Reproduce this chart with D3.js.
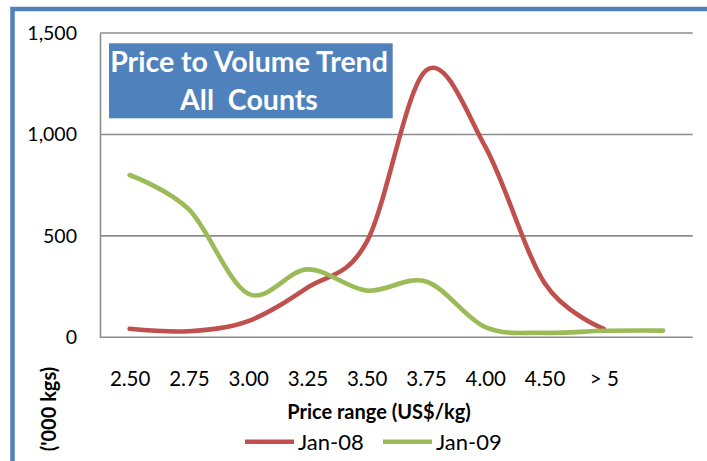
<!DOCTYPE html>
<html>
<head>
<meta charset="utf-8">
<script src="https://cdn.jsdelivr.net/npm/d3@7/dist/d3.min.js"></script>
<style>
  html, body { margin: 0; padding: 0; background: #fff; }
  svg { display: block; font-family: Lato, "Open Sans", sans-serif; }
</style>
</head>
<body>
<svg id="chart" width="707" height="461"></svg>
<script>
// Price ranges (US$/kg); the last slot is an unlabeled bucket
const categories = ["2.50", "2.75", "3.00", "3.25", "3.50", "3.75", "4.00", "4.50", "> 5", ""];
// Volumes in '000 kgs
const jan08 = [42, 30, 80, 245, 470, 1315, 940, 268, 42];
const jan09 = [800, 630, 215, 335, 230, 275, 50, 22, 32, 33];
const yTicks = [0, 500, 1000, 1500];
const seriesNames = ["Jan-08", "Jan-09"];
const seriesColors = ["#C0504D", "#9BBB59"];

const svg = d3.select("#chart");
const plot = { left: 100, right: 692.7, top: 33, bottom: 337.3 };

const x = d3.scalePoint().domain(categories).range([plot.left, plot.right]).padding(0.5);
const y = d3.scaleLinear().domain([0, 1500]).range([plot.bottom, plot.top]);

// Outer frame
svg.append("rect")
  .attr("x", 12.5).attr("y", 9)
  .attr("width", 740).attr("height", 500)
  .attr("fill", "none")
  .attr("stroke", "#4F81BD")
  .attr("stroke-width", 4.5);

// Horizontal gridlines
svg.append("g")
  .selectAll("line")
  .data(yTicks)
  .join("line")
  .attr("x1", plot.left).attr("x2", plot.right)
  .attr("y1", d => y(d)).attr("y2", d => y(d))
  .attr("stroke", "#8C8C8C")
  .attr("stroke-width", 1.6);

// Value axis
const yAxis = svg.append("g")
  .attr("transform", `translate(${plot.left},0)`)
  .call(d3.axisLeft(y).tickValues(yTicks).tickFormat(d3.format(",")).tickSize(0).tickPadding(23));
yAxis.select(".domain").attr("stroke", "#8C8C8C").attr("stroke-width", 1.6);
yAxis.selectAll("text")
  .attr("font-family", "Lato, sans-serif")
  .attr("font-size", 19.5)
  .attr("fill", "#000");

// Category axis
const xAxis = svg.append("g")
  .attr("transform", `translate(0,${plot.bottom})`)
  .call(d3.axisBottom(x).tickSize(0));
xAxis.select(".domain").remove();
xAxis.selectAll("text")
  .attr("y", 48.5)
  .attr("dy", null)
  .attr("font-family", "Lato, sans-serif")
  .attr("font-size", 20.5)
  .attr("fill", "#000");

// Smoothed series lines
const line = d3.line()
  .x((d, i) => x(categories[i]))
  .y(d => y(d))
  .curve(d3.curveCardinal.tension(0));

[jan08, jan09].forEach((vals, k) => {
  svg.append("path")
    .datum(vals)
    .attr("d", line)
    .attr("fill", "none")
    .attr("stroke", seriesColors[k])
    .attr("stroke-width", 4.6)
    .attr("stroke-linecap", "round")
    .attr("stroke-linejoin", "round");
});

// Title box
svg.append("rect")
  .attr("x", 109).attr("y", 43.3)
  .attr("width", 283.7).attr("height", 75)
  .attr("fill", "#4F81BD");
const titleLines = ["Price to Volume Trend", "All  Counts"];
svg.append("g")
  .selectAll("text")
  .data(titleLines)
  .join("text")
  .attr("x", 249)
  .attr("y", (d, i) => 71.7 + i * 38.3)
  .attr("text-anchor", "middle")
  .attr("fill", "#fff")
  .attr("font-weight", "bold")
  .attr("font-size", 28.5)
  .style("white-space", "pre")
  .text(d => d);

// Axis titles
svg.append("text")
  .attr("x", 379).attr("y", 419)
  .attr("text-anchor", "middle")
  .attr("font-weight", "bold")
  .attr("font-size", 20)
  .text("Price range (US$/kg)");

svg.append("text")
  .attr("transform", "translate(56,409) rotate(-90)")
  .attr("text-anchor", "middle")
  .attr("font-weight", "bold")
  .attr("font-size", 20)
  .text("('000 kgs)");

// Legend
const legend = svg.append("g");
const legendItems = [{ x: 245, name: seriesNames[0], color: seriesColors[0] },
                     { x: 383, name: seriesNames[1], color: seriesColors[1] }];
legendItems.forEach(it => {
  legend.append("line")
    .attr("x1", it.x).attr("x2", it.x + 49)
    .attr("y1", 441.7).attr("y2", 441.7)
    .attr("stroke", it.color)
    .attr("stroke-width", 4.6);
  legend.append("text")
    .attr("x", it.x + 53).attr("y", 450)
    .attr("font-size", 22)
    .text(it.name);
});
</script>
</body>
</html>
